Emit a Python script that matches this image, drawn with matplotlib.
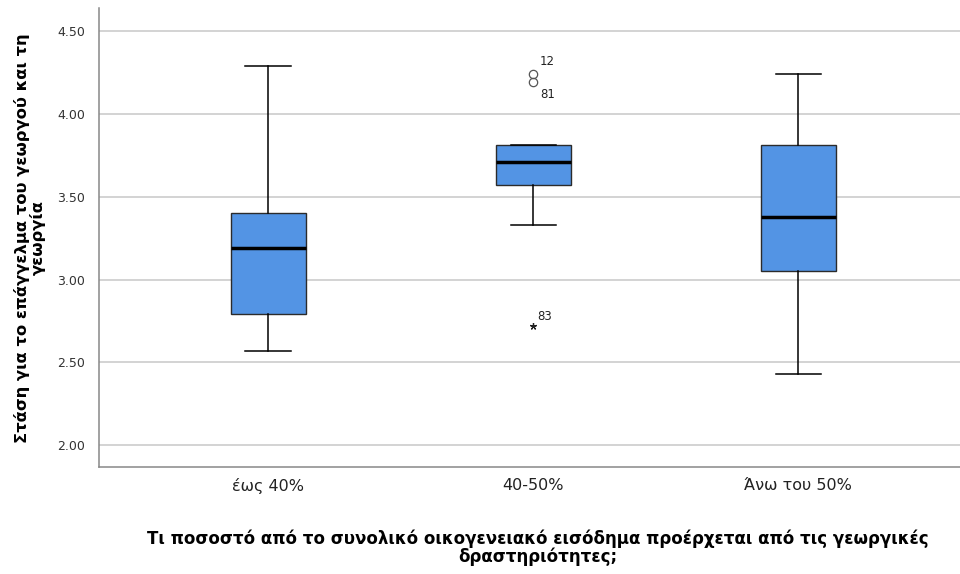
import matplotlib
matplotlib.use("Agg")
import matplotlib.pyplot as plt

categories = ["έως 40%", "40-50%", "Άνω του 50%"]
whisker_low = [2.57, 3.33, 2.43]
q1 = [2.79, 3.57, 3.05]
median = [3.19, 3.71, 3.38]
q3 = [3.40, 3.81, 3.81]
whisker_high = [4.29, 3.81, 4.24]

outlier_group = [1, 1]
outlier_values = [4.24, 4.19]
outlier_ids = ["12", "81"]
extreme_group = [1]
extreme_values = [2.72]
extreme_ids = ["83"]

yticks = [2.00, 2.50, 3.00, 3.50, 4.00, 4.50]

ylabel = "Στάση για το επάγγελμα του γεωργού και τη\nγεωργία"
xlabel = "Τι ποσοστό από το συνολικό οικογενειακό εισόδημα προέρχεται από τις γεωργικές\nδραστηριότητες;"

plt.rcParams['font.family'] = ['DejaVu Sans']

fig = plt.figure(figsize=(9.6, 5.74), dpi=100)
ax = fig.add_axes([0.103, 0.186, 0.897, 0.80])

stats = []
for i in range(len(categories)):
    stats.append(dict(med=median[i], q1=q1[i], q3=q3[i],
                      whislo=whisker_low[i], whishi=whisker_high[i],
                      fliers=[], label=categories[i]))

positions = list(range(len(categories)))
ax.bxp(stats, positions=positions, widths=0.283, patch_artist=True,
       showfliers=False,
       boxprops=dict(facecolor="#5394E4", edgecolor="#2b2b2b", linewidth=1.0),
       medianprops=dict(color="black", linewidth=2.5),
       whiskerprops=dict(color="black", linewidth=1.1),
       capprops=dict(color="black", linewidth=1.1),
       capwidths=0.17, zorder=3)

for g, v, lab in zip(outlier_group, outlier_values, outlier_ids):
    ax.plot(g, v, marker='o', markersize=6, markerfacecolor='none',
            markeredgecolor='#555555', markeredgewidth=0.9, zorder=4)
off = {"12": (5, 9), "81": (5, -9)}
for g, v, lab in zip(outlier_group, outlier_values, outlier_ids):
    ax.annotate(lab, (g, v), xytext=off[lab], textcoords='offset points',
                fontsize=8.5, color='#222222', ha='left', va='center')

for g, v, lab in zip(extreme_group, extreme_values, extreme_ids):
    ax.plot(g, v, marker=(5, 2, 0), markersize=5, color='#222222',
            markeredgewidth=0.9, zorder=4)
    ax.annotate(lab, (g, v), xytext=(3, 7), textcoords='offset points',
                fontsize=8.5, color='#222222', ha='left', va='center')

ax.set_xlim(-0.638, 2.61)
ax.set_ylim(1.867, 4.639)
ax.set_yticks(yticks)
ax.set_yticklabels([f"{t:.2f}" for t in yticks], fontsize=9, color='#333333')
ax.set_xticks(positions)
ax.set_xticklabels(categories, fontsize=11.5, color='#222222')
ax.tick_params(axis='both', length=0, pad=8)
ax.tick_params(axis='y', pad=10)

ax.grid(axis='y', color='#c8c8c8', linewidth=1.1, zorder=0)
ax.set_axisbelow(True)
for s in ['top', 'right']:
    ax.spines[s].set_visible(False)
for s in ['left', 'bottom']:
    ax.spines[s].set_color('#888888')
    ax.spines[s].set_linewidth(1.1)

fig.text(30/960, 1 - 238/574, ylabel, fontsize=11.8, fontweight='bold',
         rotation=90, ha='center', va='center', linespacing=0.95)
fig.text(538/960, 1 - 548/574, xlabel, fontsize=12, fontweight='bold',
         ha='center', va='center', linespacing=0.95)

fig.savefig("out.png", dpi=100)
